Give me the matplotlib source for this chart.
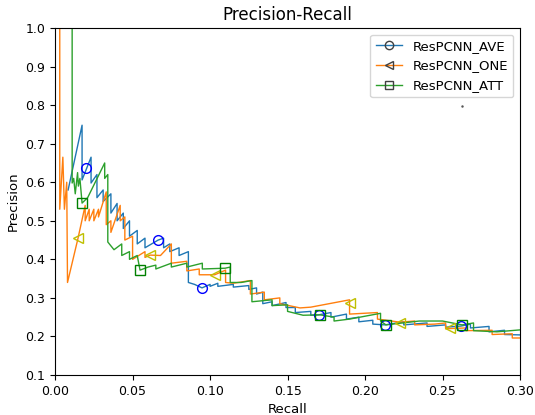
import matplotlib
matplotlib.use('Agg')
import matplotlib.pyplot as plt
from matplotlib.lines import Line2D

plt.rcParams['font.size'] = 9

# ResPCNN_AVE curve
ave_r = [0.0084, 0.0174, 0.0174, 0.0232, 0.0232, 0.027, 0.027, 0.031, 0.031, 0.036, 0.036,
         0.040, 0.040, 0.044, 0.044, 0.048, 0.048, 0.053, 0.053, 0.058, 0.058, 0.0665,
         0.070, 0.070, 0.074, 0.074, 0.080, 0.080, 0.086, 0.086, 0.090, 0.0948, 0.100,
         0.100, 0.105, 0.105, 0.115, 0.115, 0.125, 0.125, 0.130, 0.130, 0.134, 0.134,
         0.140, 0.140, 0.149, 0.149, 0.155, 0.155, 0.165, 0.165, 0.170, 0.178, 0.178,
         0.188, 0.188, 0.196, 0.196, 0.205, 0.205, 0.213, 0.225, 0.225, 0.240, 0.240,
         0.252, 0.252, 0.262, 0.268, 0.268, 0.280, 0.280, 0.290, 0.290, 0.300]
ave_p = [0.580, 0.748, 0.606, 0.665, 0.598, 0.620, 0.560, 0.580, 0.550, 0.570, 0.520,
         0.545, 0.500, 0.520, 0.480, 0.500, 0.460, 0.475, 0.440, 0.455, 0.430, 0.450,
         0.455, 0.430, 0.440, 0.420, 0.430, 0.410, 0.420, 0.340, 0.335, 0.326, 0.335,
         0.330, 0.338, 0.330, 0.335, 0.328, 0.332, 0.322, 0.326, 0.310, 0.315, 0.285,
         0.290, 0.280, 0.288, 0.275, 0.275, 0.262, 0.265, 0.255, 0.256, 0.262, 0.250,
         0.258, 0.245, 0.250, 0.238, 0.242, 0.232, 0.230, 0.238, 0.230, 0.235, 0.226,
         0.230, 0.224, 0.227, 0.232, 0.222, 0.226, 0.212, 0.216, 0.205, 0.204]

# ResPCNN_ONE curve
one_r = [0.003, 0.003, 0.005, 0.006, 0.0075, 0.008, 0.0148, 0.0194, 0.0194, 0.022, 0.022,
         0.025, 0.025, 0.028, 0.028, 0.033, 0.033, 0.036, 0.036, 0.042, 0.042, 0.045,
         0.045, 0.050, 0.050, 0.058, 0.058, 0.0613, 0.068, 0.075, 0.075, 0.085, 0.085,
         0.093, 0.093, 0.103, 0.110, 0.110, 0.115, 0.126, 0.126, 0.135, 0.135, 0.145,
         0.145, 0.158, 0.165, 0.190, 0.190, 0.208, 0.208, 0.2226, 0.232, 0.232, 0.245,
         0.252, 0.252, 0.265, 0.265, 0.282, 0.282, 0.295, 0.295, 0.300]
one_p = [1.000, 0.530, 0.665, 0.530, 0.600, 0.340, 0.455, 0.540, 0.500, 0.530, 0.500,
         0.530, 0.500, 0.530, 0.510, 0.575, 0.490, 0.500, 0.470, 0.540, 0.500, 0.510,
         0.450, 0.460, 0.400, 0.420, 0.405, 0.411, 0.410, 0.440, 0.390, 0.395, 0.370,
         0.375, 0.360, 0.360, 0.372, 0.340, 0.338, 0.345, 0.310, 0.315, 0.295, 0.300,
         0.285, 0.274, 0.276, 0.295, 0.258, 0.262, 0.245, 0.237, 0.240, 0.230, 0.232,
         0.235, 0.220, 0.222, 0.215, 0.216, 0.205, 0.207, 0.196, 0.196]

# ResPCNN_ATT curve
att_r = [0.011, 0.011, 0.012, 0.013, 0.0145, 0.015, 0.016, 0.0174, 0.021, 0.032, 0.032,
         0.034, 0.034, 0.038, 0.043, 0.043, 0.048, 0.048, 0.053, 0.0548, 0.060, 0.065,
         0.065, 0.075, 0.075, 0.085, 0.085, 0.095, 0.095, 0.1097, 0.113, 0.113, 0.120,
         0.127, 0.127, 0.140, 0.140, 0.150, 0.150, 0.160, 0.171, 0.180, 0.180, 0.190,
         0.210, 0.210, 0.2135, 0.235, 0.250, 0.2626, 0.270, 0.270, 0.285, 0.300]
att_p = [1.000, 0.598, 0.610, 0.570, 0.625, 0.590, 0.610, 0.546, 0.560, 0.650, 0.610,
         0.620, 0.445, 0.425, 0.440, 0.410, 0.420, 0.400, 0.410, 0.372, 0.380, 0.385,
         0.375, 0.390, 0.380, 0.390, 0.380, 0.390, 0.375, 0.377, 0.380, 0.340, 0.340,
         0.345, 0.290, 0.295, 0.280, 0.282, 0.265, 0.255, 0.256, 0.250, 0.240, 0.245,
         0.260, 0.240, 0.230, 0.240, 0.240, 0.230, 0.235, 0.215, 0.212, 0.217]

# marker positions
ave_mr = [0.020, 0.0665, 0.0948, 0.170, 0.213, 0.262]
ave_mp = [0.637, 0.450, 0.326, 0.256, 0.230, 0.227]
one_mr = [0.0148, 0.0613, 0.103, 0.190, 0.2226, 0.2545]
one_mp = [0.455, 0.411, 0.360, 0.287, 0.235, 0.222]
att_mr = [0.0174, 0.0548, 0.1097, 0.171, 0.2135, 0.2626]
att_mp = [0.546, 0.372, 0.377, 0.256, 0.230, 0.230]

fig = plt.figure(figsize=(5.35, 4.15), dpi=100)
ax = fig.add_axes([0.103, 0.0964, 0.869, 0.836])

ax.plot(ave_r, ave_p, color='tab:blue', lw=1)
ax.plot(one_r, one_p, color='tab:orange', lw=1)
ax.plot(att_r, att_p, color='tab:green', lw=1)
ax.plot(ave_mr, ave_mp, 'bo', mfc='none', ms=7, lw=0)
ax.plot(one_mr, one_mp, 'y<', mfc='none', ms=7, lw=0)
ax.plot(att_mr, att_mp, 'gs', mfc='none', ms=7, lw=0)
ax.plot([0.2626], [0.798], '.', color='#555555', ms=1.5)

handles = [Line2D([], [], color='tab:blue', lw=1, marker='o', mfc='none', mec='#404040'),
           Line2D([], [], color='tab:orange', lw=1, marker='<', mfc='none', mec='#404040'),
           Line2D([], [], color='tab:green', lw=1, marker='s', mfc='none', mec='#404040')]
ax.legend(handles, ['ResPCNN_AVE', 'ResPCNN_ONE', 'ResPCNN_ATT'], loc='upper right', fontsize=9.5)

ax.set_xlim(0, 0.3)
ax.set_ylim(0.1, 1.0)
ax.set_xlabel('Recall', fontsize=9.5)
ax.set_ylabel('Precision', fontsize=9.5)
ax.set_title('Precision-Recall', fontsize=12)
plt.savefig('out.png')
